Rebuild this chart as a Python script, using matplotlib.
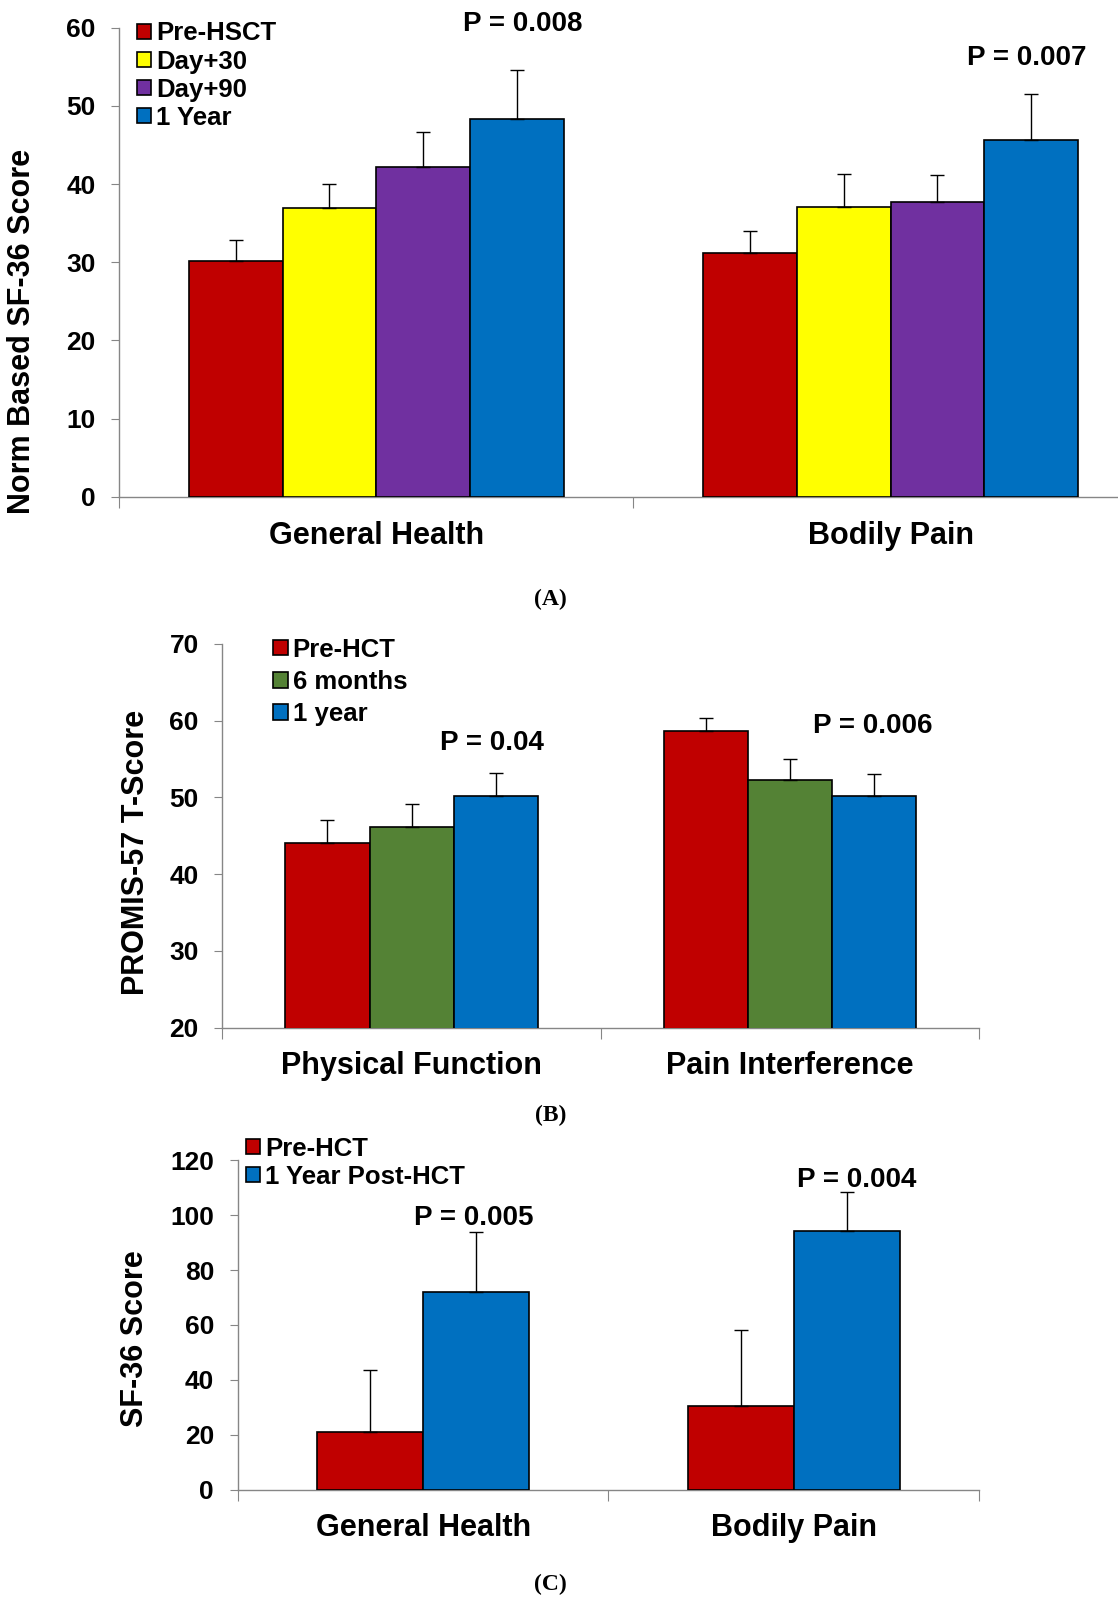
import numpy as np
import matplotlib
matplotlib.use("Agg")
import matplotlib.pyplot as plt

plt.rcParams["font.family"] = ["Liberation Sans", "DejaVu Sans"]
plt.rcParams["font.weight"] = "bold"

# ---- data -------------------------------------------------------------
a_categories = ["General Health", "Bodily Pain"]
a_series = ["Pre-HSCT", "Day+30", "Day+90", "1 Year"]
a_values = [[30.1, 31.2], [36.9, 37.0], [42.2, 37.7], [48.3, 45.6]]
a_errors = [[2.7, 2.8], [3.1, 4.3], [4.4, 3.4], [6.3, 5.9]]
a_colors = ["#C00000", "#FFFF00", "#7030A0", "#0070C0"]
a_pvalues = ["P = 0.008", "P = 0.007"]

b_categories = ["Physical Function", "Pain Interference"]
b_series = ["Pre-HCT", "6 months", "1 year"]
b_values = [[44.1, 58.6], [46.1, 52.2], [50.2, 50.2]]
b_errors = [[2.9, 1.8], [3.0, 2.8], [3.0, 2.8]]
b_colors = ["#C00000", "#548235", "#0070C0"]
b_pvalues = ["P = 0.04", "P = 0.006"]

c_categories = ["General Health", "Bodily Pain"]
c_series = ["Pre-HCT", "1 Year Post-HCT"]
c_values = [[21.2, 30.5], [72.1, 94.1]]
c_errors = [[22.3, 27.5], [21.6, 14.5]]
c_colors = ["#C00000", "#0070C0"]
c_pvalues = ["P = 0.005", "P = 0.004"]

W, H = 1096.0, 1568.0  # layout measured on the shrunk reference


def fx(x):
    return x / W


def fy(y):
    return 1 - y / H


def rect(x0, x1, yt, yb):
    return [fx(x0), fy(yb), fx(x1) - fx(x0), fy(yt) - fy(yb)]


fig = plt.figure(figsize=(11.18, 16.0), dpi=100)


def panel(box, cats, series, values, errors, colors, width, ylim, ystep,
          ylabel, ylabel_xy, pvals, p_pos, leg_xy, leg_space, tag, tag_y):
    ax = fig.add_axes(rect(*box))
    n = len(series)
    x = np.arange(len(cats))
    for i in range(n):
        xs = x + (i - (n - 1) / 2) * width
        ax.bar(xs, values[i], width, color=colors[i], edgecolor="black",
               linewidth=1.2, label=series[i], zorder=3)
        ax.errorbar(xs, values[i], yerr=[np.zeros(len(cats)), errors[i]],
                    fmt="none", ecolor="black", elinewidth=1, capsize=5,
                    capthick=1, zorder=4)
    ax.set_xlim(-0.5, len(cats) - 0.5)
    ax.set_ylim(*ylim)
    ax.set_yticks(np.arange(ylim[0], ylim[1] + 1, ystep))
    ax.set_xticks(np.arange(len(cats) + 1) - 0.5)
    ax.set_xticklabels([])
    ax.set_xticks(x, minor=True)
    ax.set_xticklabels(cats, minor=True, fontsize=22, fontweight="bold")
    ax.tick_params(axis="x", which="major", length=8, color="#868686",
                   direction="out")
    ax.tick_params(axis="x", which="minor", length=0, pad=17)
    ax.tick_params(axis="y", length=6, color="#868686", direction="out",
                   labelsize=19, pad=11)
    for lab in ax.get_yticklabels():
        lab.set_fontweight("bold")
    for sp in ["top", "right"]:
        ax.spines[sp].set_visible(False)
    for sp in ["left", "bottom"]:
        ax.spines[sp].set_color("#868686")
        ax.spines[sp].set_linewidth(1)
    ax.set_facecolor("none")

    fig.text(fx(ylabel_xy[0]), fy(ylabel_xy[1]), ylabel, rotation=90,
             ha="center", va="center", fontsize=22, fontweight="bold")
    for txt, (px, py) in zip(pvals, p_pos):
        fig.text(fx(px), fy(py), txt, ha="center", va="center",
                 fontsize=20, fontweight="bold")
    ax.legend(loc="upper left", bbox_to_anchor=(fx(leg_xy[0]), fy(leg_xy[1])),
              bbox_transform=fig.transFigure, frameon=False, borderpad=0,
              borderaxespad=0, handlelength=0.55, handleheight=0.55,
              handletextpad=0.2, labelspacing=leg_space,
              prop={"size": 18.5, "weight": "bold"})
    fig.text(fx(540), fy(tag_y), tag, ha="center", va="center", fontsize=17,
             fontweight="bold", family=["Liberation Serif", "DejaVu Serif"])
    return ax


panel((117, 1125, 27, 487), a_categories, a_series, a_values, a_errors,
      a_colors, 92 / 504, (0, 60), 10, "Norm Based SF-36 Score", (22, 325),
      a_pvalues, [(512, 24), (1007, 57)], (134, 21), 0.16, "(A)", 587)

panel((218, 960, 631, 1007), b_categories, b_series, b_values, b_errors,
      b_colors, 82.5 / 371, (20, 70), 10, "PROMIS-57 T-Score", (133, 835),
      b_pvalues, [(482, 728), (856, 711)], (268, 625), 0.32, "(B)", 1093)

panel((233, 960, 1137, 1460), c_categories, c_series, c_values, c_errors,
      c_colors, 104 / 363.5, (0, 120), 20, "SF-36 Score", (132, 1312),
      c_pvalues, [(464, 1194), (840, 1156)], (241, 1114), 0.16, "(C)", 1553)

fig.savefig("out.png", dpi=100, facecolor="white")
